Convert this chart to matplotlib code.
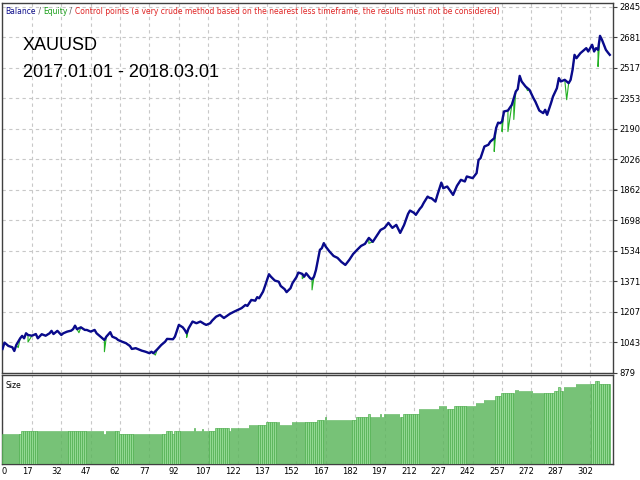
import numpy as np
import matplotlib
matplotlib.use("Agg")
import matplotlib.pyplot as plt
import matplotlib.transforms as mtransforms

# balance curve (trade number, balance)
bal_trade = [2, 3, 5, 7, 8, 9, 11, 12, 13, 14,
             15, 17, 19, 20, 22, 24, 26, 27, 28, 30,
             32, 33, 35, 37, 38, 39, 40, 42, 44, 45,
             47, 49, 50, 52, 54, 55, 57, 58, 60, 61,
             63, 65, 67, 68, 70, 72, 73, 75, 77, 78,
             79, 81, 83, 85, 86, 89, 90, 92, 94, 95,
             96, 97, 99, 101, 103, 105, 106, 108, 109, 111,
             113, 115, 118, 120, 122, 124, 126, 127, 129, 131,
             132, 133, 135, 136, 138, 139, 141, 143, 144, 146,
             147, 149, 150, 152, 153, 155, 156, 157, 159, 160,
             161, 162, 163, 164, 165, 166, 167, 169, 171, 173,
             175, 177, 179, 181, 183, 185, 187, 189, 191, 193,
             195, 197, 199, 201, 203, 205, 207, 209, 210, 212,
             213, 215, 216, 217, 219, 220, 221, 223, 224, 226,
             227, 229, 232, 234, 236, 238, 239, 242, 244, 245,
             246, 248, 250, 251, 253, 254, 255, 256, 257, 258,
             260, 262, 263, 264, 265, 266, 267, 269, 271, 273,
             274, 276, 278, 279, 280, 282, 283, 285, 286, 287,
             289, 291, 292, 293, 294, 295, 297, 298, 300, 301,
             303, 304, 305, 306, 307, 308, 310, 311, 312]
balance = [1008, 1042, 1024, 1017, 997, 1029, 1065, 1078, 1065, 1092,
           1083, 1079, 1088, 1065, 1087, 1079, 1092, 1105, 1088, 1105,
           1083, 1092, 1101, 1106, 1114, 1133, 1114, 1124, 1110, 1110,
           1101, 1110, 1092, 1074, 1056, 1074, 1098, 1074, 1065, 1056,
           1047, 1039, 1024, 1008, 1012, 1003, 999, 993, 985, 993,
           985, 1006, 1029, 1047, 1062, 1060, 1074, 1137, 1124, 1110,
           1092, 1119, 1155, 1146, 1155, 1142, 1137, 1146, 1160, 1181,
           1191, 1174, 1196, 1207, 1217, 1227, 1244, 1239, 1271, 1267,
           1286, 1280, 1316, 1346, 1409, 1396, 1375, 1369, 1346, 1329,
           1313, 1334, 1361, 1393, 1418, 1411, 1396, 1414, 1388, 1382,
           1396, 1432, 1486, 1540, 1549, 1576, 1557, 1530, 1507, 1497,
           1475, 1459, 1486, 1518, 1540, 1561, 1572, 1604, 1583, 1615,
           1647, 1658, 1685, 1658, 1674, 1631, 1674, 1733, 1751, 1739,
           1728, 1760, 1772, 1792, 1826, 1819, 1817, 1799, 1835, 1901,
           1871, 1880, 1835, 1884, 1916, 1907, 1934, 1925, 1952, 2023,
           2032, 2095, 2104, 2121, 2139, 2195, 2223, 2220, 2229, 2283,
           2288, 2319, 2355, 2390, 2403, 2474, 2444, 2417, 2399, 2355,
           2336, 2288, 2274, 2292, 2265, 2328, 2363, 2408, 2462, 2444,
           2453, 2435, 2453, 2507, 2587, 2569, 2596, 2605, 2623, 2605,
           2641, 2605, 2623, 2614, 2689, 2668, 2614, 2600, 2587]

# equity drawdowns below the balance line
dip_trade = [10, 15, 41, 54, 80, 96, 155, 160, 189, 253, 257, 260, 263, 270, 290, 306]
dip_equity = [1015, 1045, 1095, 993, 975, 1070, 1385, 1325, 1575, 2068, 2175, 2175, 2240, 2395, 2346, 2524]

# lot size per trade, as runs (number of trades, lots)
size_count = [10, 42, 1, 7, 24, 3, 1, 10, 1, 3, 1, 6, 7, 1, 9, 9, 7, 6, 13, 4, 1, 15, 6, 1,
              5, 1, 1, 8, 2, 8, 10, 4, 4, 11, 4, 6, 3, 7, 2, 7, 11, 2, 1, 2, 6, 10, 2, 6]
size_lots = [0.10, 0.11, 0.102, 0.11, 0.10, 0.11, 0.102, 0.11, 0.12, 0.11, 0.117, 0.11,
             0.12, 0.11, 0.12, 0.13, 0.14, 0.13, 0.14, 0.15, 0.16, 0.15, 0.16, 0.17,
             0.16, 0.17, 0.16, 0.17, 0.16, 0.17, 0.185, 0.195, 0.185, 0.195, 0.205, 0.215,
             0.23, 0.24, 0.25, 0.245, 0.24, 0.245, 0.26, 0.245, 0.26, 0.27, 0.28, 0.27]

yticks = [879, 1043, 1207, 1371, 1534, 1698, 1862, 2026, 2190, 2353, 2517, 2681, 2845]
xticks = [17, 32, 47, 62, 77, 92, 107, 122, 137, 152, 167, 182, 197, 212, 227, 242, 257, 272, 287, 302]

grid_kw = dict(color="#c8c8c8", linestyle=(0, (3, 3)), linewidth=0.8)
frame_col = "#404040"

# equity = balance + the drawdown points, in trade order
eq_t = np.array(bal_trade + dip_trade)
eq_v = np.array(balance + dip_equity)
order = np.argsort(eq_t, kind="stable")

sizes = np.repeat(size_lots, size_count)
trades = np.arange(2, 2 + len(sizes))

fig = plt.figure(figsize=(6.4, 4.8), dpi=100)
ax = fig.add_axes([0.003, 0.223, 0.955, 0.771])
ax2 = fig.add_axes([0.003, 0.033, 0.955, 0.186])

xmin, xmax = 1.68, 313.7

# main chart
ax.plot(eq_t[order], eq_v[order], color="#22b022", lw=0.8, zorder=3)
ax.plot(bal_trade, balance, color="#0a0a8c", lw=1.7, zorder=4)
ax.set_xlim(xmin, xmax)
ax.set_ylim(879, 2866)
ax.set_yticks(yticks)
ax.set_xticks(xticks)
ax.yaxis.tick_right()
ax.tick_params(axis="y", length=3, pad=1.5, labelsize=6, color=frame_col)
ax.tick_params(axis="x", bottom=False, labelbottom=False)
ax.grid(True, **grid_kw)
ax.set_axisbelow(True)
for s in ax.spines.values():
    s.set_color(frame_col)
    s.set_linewidth(1.0)

# size panel
ax2.bar(trades, sizes, width=0.7, color="#92d892", edgecolor="#48aa48", linewidth=0.45, zorder=3)
ax2.set_xlim(xmin, xmax)
ax2.set_ylim(0, 0.30)
ax2.set_yticks([])
ax2.set_xticks([xmin] + xticks)
ax2.set_xticklabels(["0"] + [str(t) for t in xticks])
ax2.tick_params(axis="x", length=0, pad=2, labelsize=6)
ax2.grid(True, axis="x", **grid_kw)
ax2.set_axisbelow(True)
for s in ax2.spines.values():
    s.set_color(frame_col)
    s.set_linewidth(1.0)
shift = mtransforms.ScaledTranslation(-5 / 100, 0, fig.dpi_scale_trans)
labs = ax2.get_xticklabels()
for lab in labs[1:]:
    lab.set_transform(lab.get_transform() + shift)
labs[0].set_horizontalalignment("left")
ax2.text(0.006, 0.93, "Size", transform=ax2.transAxes, fontsize=5.5, va="top", ha="left")

# header line (Balance / Equity / Control points ...)
hdr = 5.5
t = fig.text(5 / 640, 1 - 14 / 480, "Balance", color="#10108c", fontsize=hdr, va="baseline")
parts = [(" / ", "#505050"), ("Equity", "#1a9e1a"), (" / ", "#505050"),
         ("Control points (a very crude method based on the nearest less timeframe, "
          "the results must not be considered)", "#e02424")]
for txt, col in parts:
    t = ax.annotate(txt, xy=(1, 0), xycoords=t, va="bottom", ha="left",
                    color=col, fontsize=hdr, annotation_clip=False)

fig.text(23 / 640, 1 - 50 / 480, "XAUUSD", fontsize=13, family="Liberation Sans", va="baseline")
fig.text(23 / 640, 1 - 77 / 480, "2017.01.01 - 2018.03.01", fontsize=13,
         family="Liberation Sans", va="baseline")

fig.savefig("out.png", dpi=100, facecolor="white")
